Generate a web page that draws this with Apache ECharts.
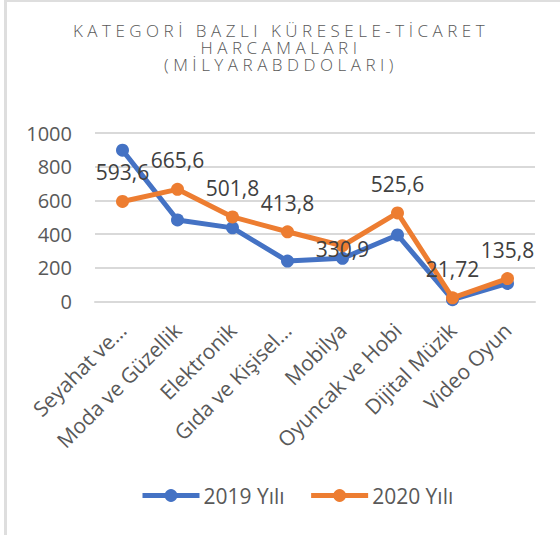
<!DOCTYPE html>
<html>
<head>
<meta charset="utf-8">
<script src="https://cdn.jsdelivr.net/npm/echarts@6/dist/echarts.min.js"></script>
<style>
  html, body { margin: 0; padding: 0; background: #fff; }
  #frame { position: absolute; left: 4px; top: 0px; width: 700px; height: 700px;
           border-left: 3px solid #dedede; border-top: 2px solid #dedede; }
  #chart { position: absolute; left: 0; top: 0; width: 560px; height: 535px; }
</style>
</head>
<body>
<div id="frame"></div>
<div id="chart"></div>
<script>
const titleLines = ['KATEGORİ BAZLI KÜRESELE-TİCARET', 'HARCAMALARI', '(MİLYARABDDOLARI)'];
const categories = ['Seyahat ve…', 'Moda ve Güzellik', 'Elektronik', 'Gıda ve Kişisel…', 'Mobilya', 'Oyuncak ve Hobi', 'Dijital Müzik', 'Video Oyun'];
const seriesNames = ['2019 Yılı', '2020 Yılı'];
const values2019 = [898, 484, 437, 240, 256, 395, 11, 107];
const values2020 = [593.6, 665.6, 501.8, 413.8, 330.9, 525.6, 21.72, 135.8];
const yTicks = [0, 200, 400, 600, 800, 1000];

const FONT = '"Open Sans", "Liberation Sans", sans-serif';
const fmt = v => String(v).replace('.', ',');

const chart = echarts.init(document.getElementById('chart'), null, { renderer: 'svg' });

const data2020 = values2020.map((v, i) => {
  if (i === 4) {
    return { value: v, label: { position: 'inside', offset: [0, 3] } };
  }
  return v;
});

chart.setOption({
  animation: false,
  title: {
    text: titleLines.join('\n'),
    left: 281,
    top: 22,
    padding: 0,
    textAlign: 'center',
    textStyle: {
      fontFamily: FONT,
      fontSize: 17,
      fontWeight: 300,
      color: '#595959',
      lineHeight: 17
    }
  },
  legend: {
    bottom: 24,
    left: 135,
    itemWidth: 57,
    itemHeight: 16,
    itemGap: 24,
    lineStyle: { width: 5 },
    textStyle: { fontFamily: FONT, fontSize: 21, color: '#595959', padding: [0, 0, 0, -1] },
    data: seriesNames
  },
  grid: { left: 95, right: 25, top: 133, bottom: 233.5, containLabel: false },
  xAxis: {
    type: 'category',
    data: categories,
    boundaryGap: true,
    axisLine: { show: true, lineStyle: { color: '#d9d9d9', width: 2 } },
    axisTick: { show: false },
    axisLabel: {
      rotate: 45,
      margin: 25,
      interval: 0,
      fontFamily: FONT,
      fontSize: 21,
      color: '#595959'
    }
  },
  yAxis: {
    type: 'value',
    min: yTicks[0],
    max: yTicks[yTicks.length - 1],
    interval: 200,
    axisLine: { show: false },
    axisTick: { show: false },
    splitLine: { lineStyle: { color: '#d9d9d9', width: 2 } },
    axisLabel: { fontFamily: FONT, fontSize: 20, color: '#595959', margin: 23, formatter: v => String(v) }
  },
  series: [
    {
      name: seriesNames[0],
      type: 'line',
      data: values2019,
      symbol: 'circle',
      symbolSize: 13,
      color: '#4472C4',
      lineStyle: { width: 5, color: '#4472C4' },
      itemStyle: { color: '#4472C4' },
      z: 2
    },
    {
      name: seriesNames[1],
      type: 'line',
      data: data2020,
      symbol: 'circle',
      symbolSize: 13,
      color: '#ED7D31',
      lineStyle: { width: 5, color: '#ED7D31' },
      itemStyle: { color: '#ED7D31' },
      z: 3,
      label: {
        show: true,
        position: 'top',
        distance: 12,
        fontFamily: FONT,
        fontSize: 21,
        color: '#404040',
        formatter: p => fmt(p.value)
      }
    }
  ]
});

// letter spacing for the title lines (as in the reference)
function spaceTitle() {
  const texts = document.querySelectorAll('#chart svg text');
  texts.forEach(t => {
    if (titleLines.includes(t.textContent)) {
      t.setAttribute('letter-spacing', '4.5');
      t.style.letterSpacing = '4.5px';
    }
  });
}
spaceTitle();
setTimeout(spaceTitle, 50);
</script>
</body>
</html>
